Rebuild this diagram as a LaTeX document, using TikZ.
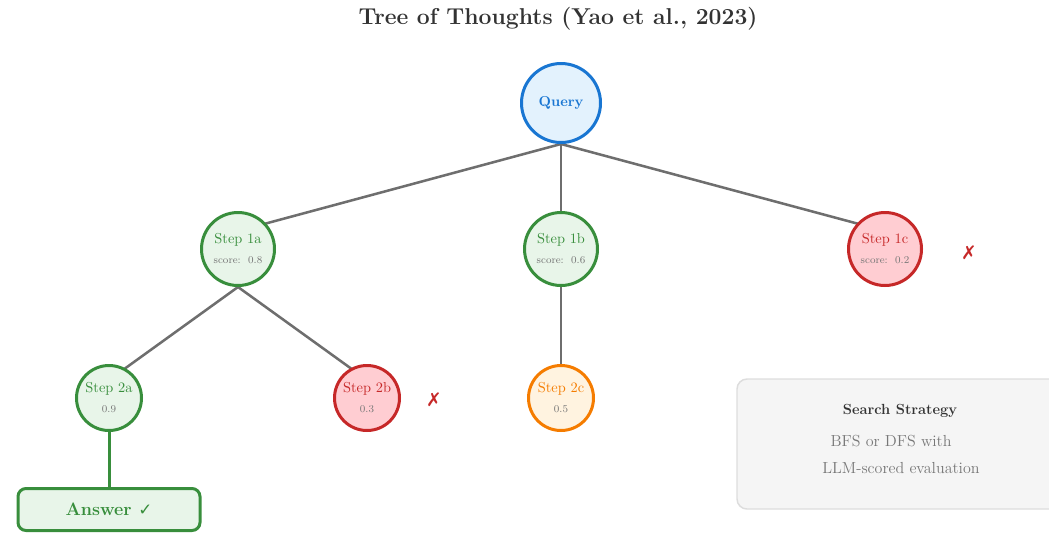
\documentclass[tikz,border=0pt]{standalone}
\usepackage{fontspec}
\newfontfamily\symfont{DejaVu Sans}
\usetikzlibrary{backgrounds}

\definecolor{titlegray}{HTML}{333333}
\definecolor{edgegray}{HTML}{6E6E6E}
\definecolor{scoregray}{HTML}{777777}
\definecolor{qblue}{HTML}{1976D2}
\definecolor{qfill}{HTML}{E3F2FD}
\definecolor{okgreen}{HTML}{388E3C}
\definecolor{okfill}{HTML}{E8F5E9}
\definecolor{badred}{HTML}{C62828}
\definecolor{badfill}{HTML}{FFCDD2}
\definecolor{midorange}{HTML}{F57C00}
\definecolor{midfill}{HTML}{FFF3E0}
\definecolor{notefill}{HTML}{F5F5F5}
\definecolor{notedraw}{HTML}{DDDDDD}
\definecolor{notetext}{HTML}{777777}

\tikzset{
  thought/.style={circle, line width=2.25pt, inner sep=0pt, align=center,
    font=\fontsize{10.8}{12}\selectfont},
  lvlone/.style={thought, minimum size=54.75pt},
  lvltwo/.style={thought, minimum size=48.75pt},
  good/.style={draw=okgreen, fill=okfill, text=okgreen},
  bad/.style={draw=badred, fill=badfill, text=badred},
  fair/.style={draw=midorange, fill=midfill, text=midorange},
  link/.style={draw=edgegray, line width=1.9pt},
  pruned/.style={text=badred, font=\symfont\fontsize{14}{16}\selectfont},
  notetxt/.style={text=notetext, font=\fontsize{12}{14}\selectfont}
}
\newcommand{\scoreline}[1]{{\fontsize{7.8}{9}\selectfont\color{scoregray}#1}}

\begin{document}
\begin{tikzpicture}[x=0.75pt,y=-0.75pt]
\useasboundingbox (0,0) rectangle (1049,533);
\clip (0,0) rectangle (1049,533);

% title
\node[text=titlegray, font=\bfseries\fontsize{17.2}{20}\selectfont] (title) at (558,19)
  {Tree of Thoughts (Yao et al., 2023)};

% root
\node[circle, line width=2.25pt, draw=qblue, fill=qfill, text=qblue, minimum size=59.25pt,
  font=\bfseries\fontsize{10.8}{12}\selectfont] (q) at (561,103) {Query};

% first level
\node[lvlone, good] (s1a) at (238,249) {Step 1a\\[3pt]\scoreline{score:~~0.8}};
\node[lvlone, good] (s1b) at (561,249) {Step 1b\\[3pt]\scoreline{score:~~0.6}};
\node[lvlone, bad]  (s1c) at (885,249) {Step 1c\\[3pt]\scoreline{score:~~0.2}};
\node[pruned] (x1c) at (969,253) {✗};

% second level
\node[lvltwo, good] (s2a) at (109,398) {Step 2a\\[3pt]\scoreline{0.9}};
\node[lvltwo, bad]  (s2b) at (367,398) {Step 2b\\[3pt]\scoreline{0.3}};
\node[lvltwo, fair] (s2c) at (561,398) {Step 2c\\[3pt]\scoreline{0.5}};
\node[pruned] (x2b) at (434,400) {✗};

% final answer
\node[draw=okgreen, fill=okfill, line width=2.25pt, rounded corners=6pt,
  minimum width=136.5pt, minimum height=31.5pt, text=okgreen,
  font=\bfseries\fontsize{13.5}{16}\selectfont] (ans) at (109,509.5)
  {Answer {\symfont\mdseries\fontsize{12.5}{14}\selectfont ✓}};

% side note on the search procedure
\node[draw=notedraw, fill=notefill, line width=1.1pt, rounded corners=7.5pt,
  minimum width=244.5pt, minimum height=97.5pt] (note) at (900,444) {};
\node[text=titlegray, font=\bfseries\fontsize{11}{13}\selectfont] (notehead) at (900,411) {Search Strategy};
\node[notetxt] (noteone) at (891,441) {BFS or DFS with};
\node[notetxt] (notetwo) at (901,468) {LLM-scored evaluation};

% connectors, kept behind the circles
\begin{scope}[on background layer]
  \draw[link] (q.south) -- ([yshift=13.5pt]s1a.center);
  \draw[link] (q.south) -- (s1b.center);
  \draw[link] (q.south) -- ([yshift=13.5pt]s1c.center);
  \draw[link] (s1a.south) -- ([yshift=13.5pt]s2a.center);
  \draw[link] (s1a.south) -- ([yshift=13.5pt]s2b.center);
  \draw[link] (s1b.south) -- (s2c.center);
  \draw[okgreen, line width=2.25pt] (s2a.south) -- (ans.north);
\end{scope}
\end{tikzpicture}
\end{document}
